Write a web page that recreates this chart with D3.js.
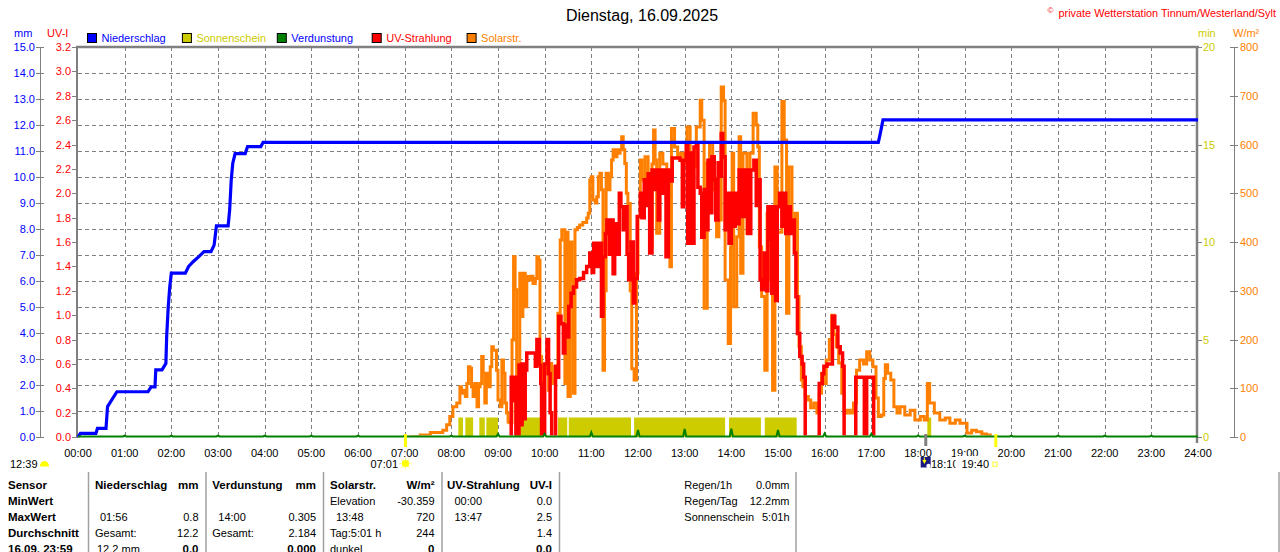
<!DOCTYPE html>
<html><head><meta charset="utf-8">
<script src="https://cdn.jsdelivr.net/npm/d3@7/dist/d3.min.js"></script>
<style>
body{margin:0;background:#fff}
svg{display:block;font-family:"Liberation Sans",Arial,sans-serif}
</style>
</head><body>
<svg id="chart" width="1280" height="552"></svg>
<script>
// ---------------- DATA ----------------
const titleText = "Dienstag, 16.09.2025";
const copyrightText = "private Wetterstation Tinnum/Westerland/Sylt";
const hourLabels = ["00:00","01:00","02:00","03:00","04:00","05:00","06:00","07:00","08:00","09:00","10:00","11:00","12:00","13:00","14:00","15:00","16:00","17:00","18:00","19:00","20:00","21:00","22:00","23:00","24:00"];
const mmTicks = [0,1,2,3,4,5,6,7,8,9,10,11,12,13,14,15];
const uvTicks = [0,0.2,0.4,0.6,0.8,1.0,1.2,1.4,1.6,1.8,2.0,2.2,2.4,2.6,2.8,3.0,3.2];
const minTicks = [0,5,10,15,20];
const wTicks = [0,100,200,300,400,500,600,700,800];
const legendNames = ["Niederschlag","Sonnenschein","Verdunstung","UV-Strahlung","Solarstr."];

// cumulative precipitation [minute of day, mm]
const precipitation = [[0,0],[3,0.14],[23,0.14],[25,0.33],[36,0.33],[38,1.17],[50,1.74],[90,1.74],[94,1.93],[99,1.93],[100,2.58],[108,2.58],[113,2.83],[114,3.86],[116,5.0],[118,5.78],[120,6.3],[138,6.3],[142,6.55],[148,6.74],[155,6.93],[162,7.13],[171,7.13],[175,7.38],[178,8.12],[193,8.12],[195,8.73],[197,9.88],[199,10.53],[202,10.9],[215,10.9],[218,11.17],[235,11.17],[238,11.33],[1029,11.33],[1031,11.6],[1033,11.9],[1035,12.2],[1440,12.2]];

// solar radiation [minute of day, W/m²]
const solarRadiation = [[418,0],[431,1],[440,4],[453,9],[469,14],[474,25],[478,42],[482,62],[487,70],[491,103],[493,90],[495,96],[498,83],[500,110],[502,144],[504,141],[506,103],[508,83],[510,110],[513,62],[515,103],[517,110],[519,165],[521,131],[523,70],[525,131],[527,103],[530,144],[532,185],[534,178],[536,178],[538,137],[540,76],[543,62],[545,158],[547,131],[549,70],[551,49],[553,31],[555,29],[558,199],[560,370],[562,302],[564,96],[566,60],[568,336],[570,247],[572,336],[575,267],[577,329],[579,322],[582,330],[585,315],[588,325],[590,370],[592,363],[594,165],[596,96],[598,96],[600,131],[603,144],[605,96],[607,151],[609,117],[611,110],[613,144],[615,131],[617,254],[620,404],[622,425],[626,110],[628,420],[630,83],[633,400],[635,322],[637,90],[639,425],[642,430],[645,435],[649,440],[654,449],[656,459],[658,527],[660,534],[662,486],[665,480],[667,493],[669,534],[671,541],[673,507],[675,137],[677,300],[679,541],[682,507],[684,534],[686,568],[688,589],[690,575],[693,589],[695,582],[697,589],[699,616],[701,589],[703,561],[705,500],[707,479],[710,300],[712,140],[715,117],[718,336],[720,452],[723,568],[725,527],[729,575],[733,534],[735,390],[738,560],[740,630],[742,568],[744,418],[748,582],[752,560],[757,425],[761,349],[763,633],[767,595],[771,575],[775,582],[779,560],[783,636],[787,582],[791,554],[795,636],[800,691],[802,650],[805,264],[809,562],[812,603],[816,507],[821,411],[824,445],[827,718],[830,690],[832,322],[836,192],[839,390],[841,582],[843,267],[847,411],[850,616],[852,336],[855,582],[860,418],[864,582],[868,664],[872,640],[874,595],[876,390],[879,288],[883,137],[886,459],[890,322],[893,96],[896,554],[899,420],[905,688],[908,609],[911,254],[914,554],[918,425],[922,459],[925,288],[927,185],[930,117],[932,103],[935,83],[939,76],[942,60],[946,70],[950,49],[953,90],[956,131],[958,110],[962,158],[966,200],[969,250],[972,210],[975,185],[978,152],[982,90],[985,49],[989,55],[993,49],[997,70],[1001,137],[1005,158],[1010,150],[1014,175],[1018,158],[1022,144],[1026,80],[1029,42],[1033,45],[1036,120],[1038,148],[1041,131],[1045,117],[1049,62],[1053,49],[1057,62],[1063,45],[1070,55],[1076,35],[1083,42],[1088,35],[1092,110],[1095,70],[1101,49],[1108,35],[1115,39],[1121,28],[1128,35],[1134,28],[1143,8],[1149,14],[1155,11],[1162,6],[1168,4],[1173,0]];

// UV index [minute of day, UV-I]
const uvIndex = [[555,0],[557,0.49],[559,0.3],[561,0.49],[563,0],[566,0],[567,0.59],[569,0.1],[571,0.6],[573,0.15],[575,0.55],[577,0.69],[585,0.69],[588,0.58],[590,0.8],[593,0.59],[595,0.44],[596,0],[600,0.6],[603,0.8],[605,0.52],[607,0.2],[609,0],[614,0.58],[616,0.49],[618,0.99],[621,0.93],[624,0.69],[626,0.92],[629,0.82],[631,1.07],[634,1.18],[637,1.23],[641,1.29],[645,1.3],[650,1.35],[654,1.4],[658,1.51],[661,1.35],[663,1.59],[667,1.4],[671,1.59],[673,0.99],[675,1.48],[678,1.67],[680,1.78],[683,1.5],[685,1.78],[688,1.34],[690,1.75],[693,1.5],[696,2.0],[698,1.89],[701,1.7],[703,1.89],[706,1.5],[708,1.29],[711,1.6],[714,1.1],[716,1.3],[719,1.81],[723,2.0],[725,1.8],[728,2.11],[730,1.9],[733,2.16],[735,1.51],[738,2.19],[741,2.03],[743,2.19],[746,1.78],[748,2.19],[751,2.0],[753,2.19],[756,1.48],[759,2.19],[761,2.1],[764,2.29],[774,2.27],[777,1.89],[779,2.27],[782,2.41],[784,1.59],[787,2.33],[789,1.59],[792,2.38],[795,2.41],[797,2.05],[800,2.0],[802,1.64],[805,2.03],[807,1.7],[810,2.27],[813,1.84],[815,2.3],[818,2.11],[820,1.78],[823,2.25],[825,2.14],[827,2.49],[829,2.3],[832,1.7],[834,2.0],[837,1.59],[840,2.0],[842,1.73],[845,2.0],[847,1.75],[850,2.19],[854,1.81],[858,2.19],[861,1.67],[865,2.19],[869,2.27],[872,1.9],[874,2.11],[877,1.29],[879,1.21],[882,1.51],[885,1.2],[887,1.89],[890,1.62],[892,1.18],[894,1.89],[897,1.12],[899,1.89],[902,2.0],[905,1.73],[907,2.0],[910,1.67],[913,1.89],[916,1.67],[918,1.78],[921,1.51],[923,1.15],[925,0.85],[928,0.66],[931,0.6],[933,0.49],[935,0],[952,0],[953,0.44],[957,0.52],[959,0.58],[963,0.6],[967,0.6],[970,0.99],[973,0.9],[977,0.74],[980,0.69],[983,0.58],[985,0],[999,0],[1000,0.49],[1009,0.49],[1011,0],[1013,0],[1014,0.49],[1022,0.49],[1023,0]];

// sunshine intervals [start, end] (1 min of sunshine per minute)
const sunshine = [["08:09","08:15"],["08:18","08:28"],["08:36","08:43"],["08:45","09:00"],["09:22","09:57"],["10:17","10:29"],["10:31","11:51"],["11:55","13:52"],["13:57","14:38"],["14:43","15:24"],["18:12","18:17"]];

// hourly evaporation (mm) at hour marks
const evapHours  = [1,2,3,4,5,6,7,8,9,10,11,12,13,14,15,16,17,18,19,20,21,22,23];
const evapValues = [0.03,0.03,0.03,0.03,0.03,0.03,0.03,0.03,0.1,0.1,0.16,0.25,0.29,0.305,0.25,0.12,0.1,0.04,0.03,0.03,0.03,0.03,0.03];

// marker labels under the axis
const moonText = "12:39", sunriseText = "07:01", moonriseText = "18:10", sunsetText = "19:40";
const sunriseMin = 421, moonriseMin = 1090, sunsetMin = 1180;

// table
const sensorCol = ["Sensor","MinWert","MaxWert","Durchschnitt","16.09. 23:59"];
const niederschlagCol = [["Niederschlag","mm"],["",""],["01:56","0.8"],["Gesamt:","12.2"],["12.2 mm","0.0"]];
const verdunstungCol = [["Verdunstung","mm"],["",""],["14:00","0.305"],["Gesamt:","2.184"],["","0.000"]];
const solarCol = [["Solarstr.","W/m²"],["Elevation","-30.359"],["13:48","720"],["Tag:5:01 h","244"],["dunkel","0"]];
const uvCol = [["UV-Strahlung","UV-I"],["00:00","0.0"],["13:47","2.5"],["","1.4"],["","0.0"]];
const infoCol = [["Regen/1h","0.0mm"],["Regen/Tag","12.2mm"],["Sonnenschein","5:01h"]];

// ---------------- LAYOUT ----------------
const svg = d3.select("#chart");
const L = 78, R = 1198, T = 47, B = 437;
const GRAY = "#808080", BLUE = "#0000ff", YEL = "#cccc00", GREEN = "#008000", RED = "#ff0000", ORANGE = "#ff8000";
const x = d3.scaleLinear().domain([0,1440]).range([L,R]);
const yMM = d3.scaleLinear().domain([0,15]).range([B,T]);
const yUV = d3.scaleLinear().domain([0,3.2]).range([B,T]);
const yMin = d3.scaleLinear().domain([0,20]).range([B,T]);
const yW = d3.scaleLinear().domain([0,800]).range([B,T]);
const toMin = s => { const [h,m] = s.split(":").map(Number); return h*60+m; };

svg.append("rect").attr("width",1280).attr("height",552).attr("fill","#fff");
svg.append("defs").append("clipPath").attr("id","plotClip").append("rect").attr("x",L).attr("y",30).attr("width",R-L).attr("height",B-30-1.5);

// title and copyright
svg.append("text").attr("x",642).attr("y",15).attr("text-anchor","middle").attr("dominant-baseline","central")
  .attr("font-size",16).attr("fill","#000").text(titleText);
const cp = svg.append("text").attr("x",1276).attr("y",12.5).attr("text-anchor","end").attr("dominant-baseline","central")
  .attr("font-size",10.9).attr("fill",RED).text(copyrightText);
const cpLen = cp.node().getComputedTextLength();
svg.append("text").attr("x",1276-cpLen-11).attr("y",10.5).attr("dominant-baseline","central").attr("font-size",8).attr("fill",RED).text("©");

// legend
const legendFill = [BLUE,YEL,GREEN,RED,ORANGE];
const legendText = [BLUE,YEL,BLUE,RED,ORANGE];
const lg = svg.append("g");
legendNames.forEach((n,i) => {
  const lx = 87 + i*94.9;
  lg.append("rect").attr("x",lx+0.5).attr("y",33.5).attr("width",9).attr("height",9).attr("fill",legendFill[i]).attr("stroke","#000").attr("stroke-width",1);
  lg.append("text").attr("x",lx+14.5).attr("y",38).attr("dominant-baseline","central").attr("font-size",11).attr("fill",legendText[i]).text(n);
});

// unit labels
const unit = (tx,ty,t,c,anchor) => svg.append("text").attr("x",tx).attr("y",ty).attr("text-anchor",anchor||"start").attr("dominant-baseline","central").attr("font-size",11).attr("fill",c).text(t);
unit(14,33,"mm",BLUE);
unit(47,33,"UV-I",RED);
unit(1198,33,"min",YEL);
unit(1233,33,"W/m²",ORANGE);

// grid
const grid = svg.append("g").attr("stroke",GRAY).attr("stroke-width",1).attr("stroke-dasharray","4,3").attr("shape-rendering","crispEdges");
mmTicks.filter(v => v>0 && v<15).forEach(v => grid.append("line").attr("x1",L).attr("x2",R).attr("y1",Math.round(yMM(v))+0.5).attr("y2",Math.round(yMM(v))+0.5));
hourLabels.slice(1,24).forEach((h,i) => { const xx = Math.round(x((i+1)*60))+0.5; grid.append("line").attr("x1",xx).attr("x2",xx).attr("y1",T).attr("y2",B); });

// left axes
const ax = svg.append("g").attr("font-size",11);
ax.append("line").attr("x1",40.5).attr("x2",40.5).attr("y1",T).attr("y2",B).attr("stroke",GRAY);
mmTicks.forEach(v => {
  const yy = Math.round(yMM(v))+0.5;
  ax.append("line").attr("x1",36).attr("x2",44).attr("y1",yy).attr("y2",yy).attr("stroke",GRAY);
  ax.append("text").attr("x",35).attr("y",yMM(v)).attr("text-anchor","end").attr("dominant-baseline","central").attr("fill",BLUE).text(v.toFixed(1));
});
uvTicks.forEach(v => {
  const yy = Math.round(yUV(v))+0.5;
  ax.append("line").attr("x1",72).attr("x2",77).attr("y1",yy).attr("y2",yy).attr("stroke",GRAY);
  ax.append("text").attr("x",71).attr("y",yUV(v)).attr("text-anchor","end").attr("dominant-baseline","central").attr("fill",RED).text(v.toFixed(1));
});
// right axes
minTicks.forEach(v => {
  const yy = Math.round(yMin(v))+0.5;
  ax.append("line").attr("x1",1198).attr("x2",1202).attr("y1",yy).attr("y2",yy).attr("stroke",GRAY);
  ax.append("text").attr("x",1203).attr("y",yMin(v)).attr("dominant-baseline","central").attr("fill",YEL).text(v);
});
ax.append("line").attr("x1",1234.5).attr("x2",1234.5).attr("y1",T).attr("y2",B).attr("stroke",GRAY);
wTicks.forEach(v => {
  const yy = Math.round(yW(v))+0.5;
  ax.append("line").attr("x1",1230).attr("x2",1238).attr("y1",yy).attr("y2",yy).attr("stroke",GRAY);
  ax.append("text").attr("x",1240).attr("y",yW(v)).attr("dominant-baseline","central").attr("fill",ORANGE).text(v);
});

// x labels
hourLabels.forEach((h,i) => ax.append("text").attr("x",x(i*60)).attr("y",452.5).attr("text-anchor","middle").attr("dominant-baseline","central").attr("fill","#000").text(h));

// frame
svg.append("line").attr("x1",L-2).attr("x2",R+1).attr("y1",47).attr("y2",47).attr("stroke",GRAY).attr("stroke-width",2.5);
svg.append("line").attr("x1",77).attr("x2",77).attr("y1",46).attr("y2",B+1).attr("stroke",GRAY).attr("stroke-width",2);
svg.append("line").attr("x1",1197).attr("x2",1197).attr("y1",46).attr("y2",443).attr("stroke",GRAY).attr("stroke-width",2.5);

// sunshine bars
svg.append("g").selectAll("rect").data(sunshine).join("rect")
  .attr("x",d => x(toMin(d[0]))).attr("width",d => x(toMin(d[1]))-x(toMin(d[0])))
  .attr("y",yMin(1)).attr("height",B-yMin(1)).attr("fill",YEL);

// solar radiation
const plot = svg.append("g").attr("clip-path","url(#plotClip)");
plot.append("path").datum(solarRadiation)
  .attr("d",d3.line().x(d=>x(d[0])).y(d=>yW(d[1])).curve(d3.curveStepAfter))
  .attr("fill","none").attr("stroke",ORANGE).attr("stroke-width",3);
// UV
plot.append("path").datum(uvIndex)
  .attr("d",d3.line().x(d=>x(d[0])).y(d=>yUV(d[1])).curve(d3.curveStepAfter))
  .attr("fill","none").attr("stroke",RED).attr("stroke-width",3.5);
// precipitation
svg.append("path").datum(precipitation)
  .attr("d",d3.line().x(d=>x(d[0])).y(d=>yMM(d[1])))
  .attr("fill","none").attr("stroke",BLUE).attr("stroke-width",3.2);
// evaporation
const evapPts = [[0,0]];
evapHours.forEach((h,i) => { evapPts.push([h*60-2,0],[h*60,evapValues[i]],[h*60+2,0]); });
evapPts.push([1440,0]);
svg.append("path").datum(evapPts)
  .attr("d",d3.line().x(d=>x(d[0])).y(d=>yMM(d[1])-0.5))
  .attr("fill","none").attr("stroke",GREEN).attr("stroke-width",2);

// markers under the axis
const mk = svg.append("g").attr("font-size",11).attr("fill","#000");
mk.append("line").attr("x1",x(sunriseMin)).attr("x2",x(sunriseMin)).attr("y1",434).attr("y2",447).attr("stroke","#ffff00").attr("stroke-width",3);
mk.append("line").attr("x1",x(sunsetMin)).attr("x2",x(sunsetMin)).attr("y1",434).attr("y2",447).attr("stroke","#ffff00").attr("stroke-width",3);
mk.append("line").attr("x1",x(moonriseMin)).attr("x2",x(moonriseMin)).attr("y1",434).attr("y2",446).attr("stroke",GRAY).attr("stroke-width",3);
mk.append("text").attr("x",10).attr("y",463.5).attr("dominant-baseline","central").text(moonText);
mk.append("path").attr("d","M40,466.5 A4.5,5.5 0 0 1 49,466.5 Z").attr("fill","#ffff00");
mk.append("text").attr("x",398).attr("y",463.5).attr("text-anchor","end").attr("dominant-baseline","central").text(sunriseText);
const sun = mk.append("g").attr("transform","translate(405.5,463.5)");
d3.range(8).forEach(i => { const a = i*Math.PI/4; sun.append("line").attr("x1",Math.cos(a)*3).attr("y1",Math.sin(a)*3).attr("x2",Math.cos(a)*6).attr("y2",Math.sin(a)*6).attr("stroke","#ffff99").attr("stroke-width",1.2); });
sun.append("circle").attr("r",3.6).attr("fill","#ffff00");
// moonrise icon
mk.append("rect").attr("x",920.7).attr("y",457).attr("width",10).attr("height",10.5).attr("fill","#1a1a80");
mk.append("path").attr("d","M922.3,460 L926.5,460 L924.4,464 Z").attr("fill","#ffff00");
mk.append("line").attr("x1",924.4).attr("x2",924.4).attr("y1",457.5).attr("y2",460.5).attr("stroke","#ffff00").attr("stroke-width",1.2);
mk.append("circle").attr("cx",928.5).attr("cy",466).attr("r",2.2).attr("fill","#fff");
mk.append("text").attr("x",931).attr("y",463.5).attr("dominant-baseline","central").text(moonriseText);
mk.append("rect").attr("x",955.5).attr("y",456).attr("width",35).attr("height",15).attr("fill","#fff");
mk.append("text").attr("x",961.5).attr("y",463.5).attr("dominant-baseline","central").text(sunsetText);
mk.append("rect").attr("x",992.8).attr("y",462.2).attr("width",4.2).attr("height",4.2).attr("fill","none").attr("stroke","#ffff66").attr("stroke-width",1.4);

// table
const tb = svg.append("g").attr("fill","#000");
const rowY = [485,501,517,533,549];
[88.5,206,323.5,442,559.5,796,1279].forEach(sx => tb.append("line").attr("x1",sx).attr("x2",sx).attr("y1",472).attr("y2",552).attr("stroke","#a0a0a0").attr("stroke-width",1.5));
const cell = (tx,ty,t,bold,anchor) => tb.append("text").attr("x",tx).attr("y",ty).attr("text-anchor",anchor||"start").attr("dominant-baseline","central")
  .attr("font-size",bold?11.5:11).attr("font-weight",bold?"bold":"normal").text(t);
sensorCol.forEach((t,i) => cell(8,rowY[i],t,true));
const colDefs = [
  {data:niederschlagCol, left:95, right:198.5, indent:[0,0,5,0,2]},
  {data:verdunstungCol, left:212.3, right:316, indent:[0,0,6,0,0]},
  {data:solarCol, left:330, right:434.5, indent:[0,0,6,0,0]},
  {data:uvCol, left:447, right:552, indent:[0,7.5,7.5,0,0]}
];
colDefs.forEach(c => c.data.forEach((r,i) => {
  if (r[0]) cell(c.left+c.indent[i], rowY[i], r[0], i===0);
  if (r[1]) cell(c.right, rowY[i], r[1], i===0 || i===4, "end");
}));
infoCol.forEach((r,i) => { cell(684.3,rowY[i],r[0],false); cell(789.5,rowY[i],r[1],false,"end"); });
</script>
</body></html>
